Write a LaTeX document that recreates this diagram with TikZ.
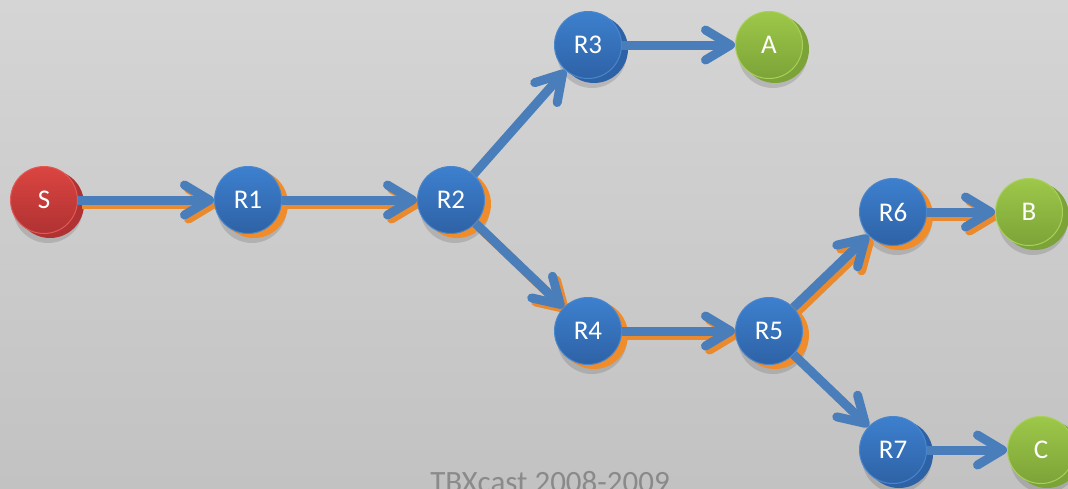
\documentclass[tikz,border=0pt]{standalone}
\usepackage{fontspec}
\setmainfont{Carlito}
\usetikzlibrary{arrows.meta}
\definecolor{bgtop}{HTML}{D5D5D5}
\definecolor{bgbot}{HTML}{C2C2C2}
\definecolor{bluetop}{HTML}{3D80CE}
\definecolor{bluebot}{HTML}{2E62A6}
\definecolor{blueedge}{HTML}{4A86CC}
\definecolor{redtop}{HTML}{DB4541}
\definecolor{redbot}{HTML}{B03232}
\definecolor{rededge}{HTML}{E05A56}
\definecolor{greentop}{HTML}{9DC849}
\definecolor{greenbot}{HTML}{7CA338}
\definecolor{greenedge}{HTML}{A9D05A}
\definecolor{arrowblue}{HTML}{4A7EBB}
\definecolor{arroworange}{HTML}{EA8A2E}
\definecolor{backorange}{HTML}{F08C2A}
\definecolor{captiongray}{HTML}{8A8A8A}
\pgfdeclarelayer{back}
\pgfdeclarelayer{mid}
\pgfsetlayers{back,mid,main}
\tikzset{
  nd/.style={circle,minimum size=67pt,inner sep=0pt,line width=1pt,
    font=\fontsize{27}{31}\selectfont,text=white},
  bluend/.style={nd,top color=bluetop,bottom color=bluebot,draw=blueedge},
  rednd/.style={nd,top color=redtop,bottom color=redbot,draw=rededge},
  greennd/.style={nd,top color=greentop,bottom color=greenbot,draw=greenedge},
  link/.style={line width=9pt,draw=arrowblue,
    -{Straight Barb[length=25pt,width=30pt,round]}},
  olink/.style={link,draw=arroworange,transform canvas={xshift=4pt,yshift=-4pt}},
  shadowc/.style={fill=black,opacity=0.13},
}
\newcommand{\backc}[2]{%
  \fill[shadowc] ([xshift=4pt,yshift=-8pt]#1.center) circle (35pt);
  \fill[#2] ([xshift=6pt,yshift=-4pt]#1.center) circle (34pt);}
\begin{document}
\begin{tikzpicture}[x=1pt,y=-1pt]
\begin{pgfonlayer}{back}
  \shade[top color=bgtop,bottom color=bgbot] (0,0) rectangle (1068,488);
\end{pgfonlayer}
\useasboundingbox (0,0) rectangle (1068,488);
\clip (0,0) rectangle (1068,488);

\node[rednd]   (S)  at (44,200)  {S};
\node[bluend]  (R1) at (248,200) {R1};
\node[bluend]  (R2) at (451,200) {R2};
\node[bluend]  (R3) at (588,45)  {R3};
\node[greennd] (A)  at (769,45)  {A};
\node[bluend]  (R4) at (588,331) {R4};
\node[bluend]  (R5) at (769,331) {R5};
\node[bluend]  (R6) at (893,212) {R6};
\node[greennd] (B)  at (1029,212) {B};
\node[bluend]  (R7) at (893,450) {R7};
\node[greennd] (C)  at (1041,450) {C};

\begin{pgfonlayer}{back}
  \backc{S}{redbot}
  \backc{R1}{backorange}
  \backc{R2}{backorange}
  \backc{R3}{bluebot}
  \backc{A}{greenbot}
  \backc{R4}{backorange}
  \backc{R5}{backorange}
  \backc{R6}{backorange}
  \backc{B}{greenbot}
  \backc{R7}{bluebot}
  \backc{C}{greenbot}
\end{pgfonlayer}

\begin{pgfonlayer}{mid}
  \draw[olink] (S) -- (R1);
  \draw[olink] (R1) -- (R2);
  \draw[olink] (R2) -- (R4);
  \draw[olink] (R4) -- (R5);
  \draw[olink] (R5) -- (R6);
  \draw[olink] (R6) -- (B);
  \draw[link] (S) -- (R1);
  \draw[link] (R1) -- (R2);
  \draw[link] (R2) -- (R3);
  \draw[link] (R3) -- (A);
  \draw[link] (R2) -- (R4);
  \draw[link] (R4) -- (R5);
  \draw[link] (R5) -- (R6);
  \draw[link] (R6) -- (B);
  \draw[link] (R5) -- (R7);
  \draw[link] (R7) -- (C);
\end{pgfonlayer}

\node[anchor=base,text=captiongray,font=\fontsize{31}{36}\selectfont,inner sep=0pt]
  (cap) at (550,492) {TBXcast 2008-2009};
\end{tikzpicture}
\end{document}
